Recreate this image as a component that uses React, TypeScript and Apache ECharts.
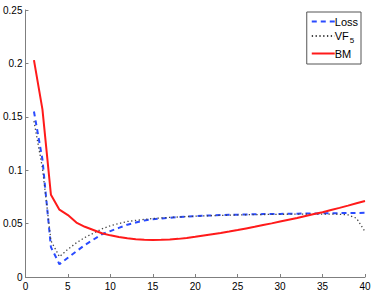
import React, { useEffect, useRef } from "react";
import * as echarts from "echarts";

const xValues = Array.from({ length: 40 }, (_, i) => i + 1);

const lossValues = [
  0.155, 0.11, 0.028, 0.012, 0.018, 0.024, 0.030, 0.035, 0.040, 0.043,
  0.046, 0.049, 0.051, 0.053, 0.054, 0.0548, 0.0555, 0.0561, 0.0566, 0.0570,
  0.0574, 0.0577, 0.0580, 0.0582, 0.0584, 0.0586, 0.0588, 0.0589, 0.0590, 0.0591,
  0.0592, 0.0593, 0.0594, 0.0595, 0.0596, 0.0597, 0.0598, 0.0599, 0.0600, 0.0601,
];

const vf5Values = [
  0.146, 0.102, 0.034, 0.019, 0.026, 0.032, 0.037, 0.041, 0.045, 0.048,
  0.050, 0.052, 0.053, 0.054, 0.0547, 0.0553, 0.0558, 0.0562, 0.0566, 0.0569,
  0.0572, 0.0575, 0.0577, 0.0579, 0.0581, 0.0583, 0.0584, 0.0585, 0.0586, 0.0587,
  0.0588, 0.0588, 0.0589, 0.0589, 0.0589, 0.0589, 0.0587, 0.0582, 0.0550, 0.0425,
];

const bmValues = [
  0.203, 0.157, 0.077, 0.063, 0.058, 0.051, 0.047, 0.044, 0.041, 0.039,
  0.0375, 0.0362, 0.0354, 0.0349, 0.0347, 0.0348, 0.0352, 0.0357, 0.0366, 0.0377,
  0.0389, 0.0401, 0.0413, 0.0426, 0.0440, 0.0455, 0.0470, 0.0486, 0.0502, 0.0519,
  0.0536, 0.0553, 0.0571, 0.0589, 0.0607, 0.0627, 0.0647, 0.0668, 0.0690, 0.0712,
];

const seriesNames = ["Loss", "VF5", "BM"];

const pairs = (vals: number[]) => xValues.map((x, i) => [x, vals[i]]);

export default function App() {
  const ref = useRef<HTMLDivElement>(null);
  useEffect(() => {
    if (!ref.current) return;
    const chart = echarts.init(ref.current, undefined, { renderer: "svg" });
    const font = "'Liberation Sans', Arial, sans-serif";
    chart.setOption({
      animation: false,
      backgroundColor: "#ffffff",
      textStyle: { fontFamily: font },
      grid: { left: 23, right: 9, top: 10, bottom: 14, containLabel: false },
      legend: {
        orient: "vertical",
        right: 13,
        top: 12,
        padding: [4, 3, 5, 4],
        itemGap: 3.5,
        itemWidth: 23,
        itemHeight: 12,
        borderColor: "#555",
        borderWidth: 1,
        borderRadius: 0,
        backgroundColor: "#fff",
        itemStyle: { opacity: 0 },
        data: seriesNames,
        formatter: (n: string) => (n === "VF5" ? "VF{sub|5}" : n),
        textStyle: {
          fontFamily: font,
          fontSize: 11,
          color: "#000",
          padding: [0, 0, 0, -5],
          rich: {
            sub: { fontSize: 8, fontFamily: font, padding: [9, 0, 0, 1] },
          },
        },
      },
      xAxis: {
        type: "value",
        min: 0,
        max: 40,
        interval: 5,
        axisLine: { lineStyle: { color: "#7f7f7f" } },
        axisTick: { inside: true, length: 3, lineStyle: { color: "#7f7f7f" } },
        axisLabel: { color: "#000", fontSize: 10, margin: 4, fontFamily: font },
        splitLine: { show: false },
      },
      yAxis: {
        type: "value",
        min: 0,
        max: 0.25,
        interval: 0.05,
        axisLine: { show: true, lineStyle: { color: "#7f7f7f" } },
        axisTick: { show: true, inside: true, length: 3, lineStyle: { color: "#7f7f7f" } },
        axisLabel: { color: "#000", fontSize: 10, margin: 3, fontFamily: font },
        splitLine: { show: false },
      },
      series: [
        {
          name: "Loss",
          type: "line",
          symbol: "none",
          data: pairs(lossValues),
          lineStyle: { color: "#2a4bff", width: 2, type: [5, 4] },
          itemStyle: { color: "#2a4bff" },
          z: 2,
        },
        {
          name: "VF5",
          type: "line",
          symbol: "none",
          data: pairs(vf5Values),
          lineStyle: { color: "#444", width: 1.3, type: [1.3, 2.5] },
          itemStyle: { color: "#444" },
          z: 3,
        },
        {
          name: "BM",
          type: "line",
          symbol: "none",
          data: pairs(bmValues),
          lineStyle: { color: "#ff1a1a", width: 2 },
          itemStyle: { color: "#ff1a1a" },
          z: 4,
        },
      ],
    });
    return () => chart.dispose();
  }, []);
  return (
    <div
      ref={ref}
      style={{ position: "fixed", left: 0, top: 0, width: 374, height: 291 }}
    />
  );
}
